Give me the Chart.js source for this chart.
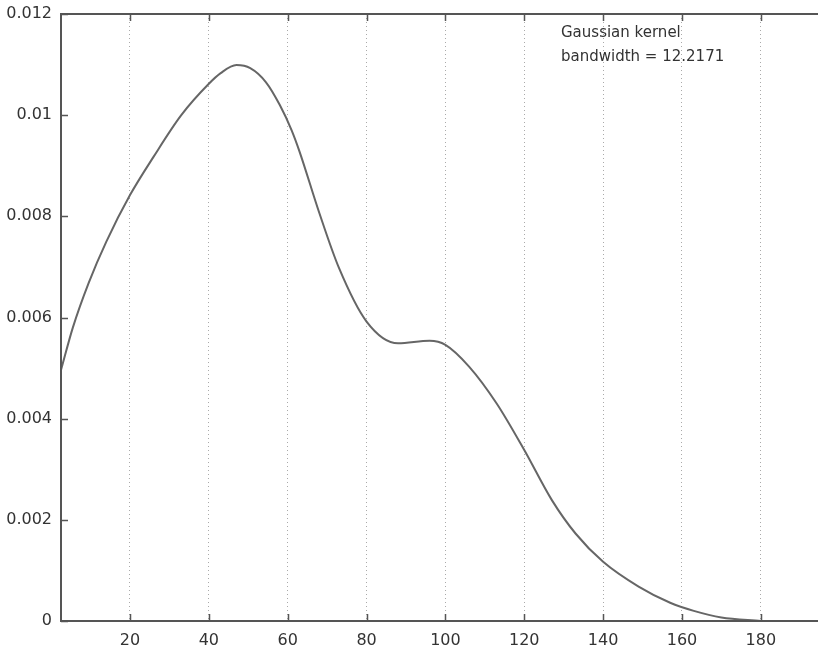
<!DOCTYPE html>
<html>
<head>
<meta charset="utf-8">
<script src="https://cdn.jsdelivr.net/npm/chart.js@4.4.1/dist/chart.umd.min.js"></script>
<style>
  html, body { margin: 0; padding: 0; background: #fff; }
  #wrap { width: 818px; height: 647px; }
</style>
</head>
<body>
<div id="wrap"><canvas id="kde"></canvas></div>
<script>
// values
const xValues = [2.5, 5.5, 9.5, 14, 20, 26, 33, 40, 43, 47, 50.5, 54.5, 58, 61, 63, 68, 73, 80, 88, 96, 100, 106, 113, 120, 127, 133, 140, 149, 157, 163, 170, 180];
const density = [0.00496, 0.0058, 0.00668, 0.0075, 0.00842, 0.00918, 0.01, 0.01062, 0.01083, 0.01099, 0.01093, 0.01065, 0.0102, 0.0097, 0.00928, 0.00807, 0.00698, 0.00592, 0.00549, 0.00554, 0.00546, 0.00503, 0.0043, 0.00338, 0.00239, 0.00173, 0.00117, 0.00068, 0.00036, 0.0002, 0.00007, 0];
const xTicks = [20, 40, 60, 80, 100, 120, 140, 160, 180];
const yTicks = [0, 0.002, 0.004, 0.006, 0.008, 0.01, 0.012];
const noteLines = ['Gaussian kernel', 'bandwidth = 12.2171'];

const FONT = 'DejaVu Sans, Verdana, sans-serif';
const FRAME = '#555';

// frame on left/top/bottom with small inward ticks, plus the note text
const framePlugin = {
  id: 'frame',
  afterDraw(chart) {
    const { ctx, chartArea: a, scales } = chart;
    ctx.save();
    ctx.strokeStyle = FRAME;
    ctx.lineWidth = 2;
    ctx.beginPath();
    ctx.moveTo(a.right, a.top); ctx.lineTo(a.left, a.top);
    ctx.lineTo(a.left, a.bottom); ctx.lineTo(a.right, a.bottom);
    ctx.stroke();
    ctx.lineWidth = 1.5;
    ctx.beginPath();
    xTicks.forEach(v => {
      const px = Math.round(scales.x.getPixelForValue(v)) + 0.5;
      ctx.moveTo(px, a.bottom); ctx.lineTo(px, a.bottom - 7);
      ctx.moveTo(px, a.top); ctx.lineTo(px, a.top + 7);
    });
    yTicks.forEach(v => {
      const py = Math.round(scales.y.getPixelForValue(v)) + 0.5;
      ctx.moveTo(a.left, py); ctx.lineTo(a.left + 7, py);
    });
    ctx.stroke();

    ctx.fillStyle = '#333';
    ctx.font = '15px ' + FONT;
    ctx.textBaseline = 'middle';
    ctx.textAlign = 'left';
    noteLines.forEach((t, i) => ctx.fillText(t, a.left + 500, a.top + 19 + i * 24));
    ctx.restore();
  }
};

new Chart(document.getElementById('kde'), {
  type: 'line',
  data: {
    datasets: [{
      data: xValues.map((x, i) => ({ x: x, y: density[i] })),
      borderColor: '#666',
      borderWidth: 2,
      pointRadius: 0,
      cubicInterpolationMode: 'monotone',
      fill: false
    }]
  },
  options: {
    responsive: true,
    maintainAspectRatio: false,
    animation: false,
    layout: { padding: { top: 14, right: 0, left: 0, bottom: 0 } },
    plugins: { legend: { display: false }, tooltip: { enabled: false } },
    scales: {
      x: {
        type: 'linear',
        min: 2.5,
        max: 194.5,
        afterBuildTicks: s => { s.ticks = xTicks.map(v => ({ value: v })); },
        afterFit: s => { s.height = 26; s.paddingLeft = 0; s.paddingRight = 0; },
        border: { display: false, dash: [1, 3] },
        grid: { drawTicks: false, color: '#aaa', lineWidth: 1 },
        ticks: { padding: 10, color: '#333', font: { family: FONT, size: 16 }, maxRotation: 0 }
      },
      y: {
        min: 0,
        max: 0.012,
        afterBuildTicks: s => { s.ticks = yTicks.map(v => ({ value: v })); },
        afterFit: s => { s.width = 61; s.paddingTop = 0; s.paddingBottom = 0; },
        border: { display: false },
        grid: { display: false, drawTicks: false },
        ticks: {
          padding: 9,
          color: '#333',
          font: { family: FONT, size: 16 },
          callback: v => String(Number(v.toFixed(3)))
        }
      }
    }
  },
  plugins: [framePlugin]
});
</script>
</body>
</html>
